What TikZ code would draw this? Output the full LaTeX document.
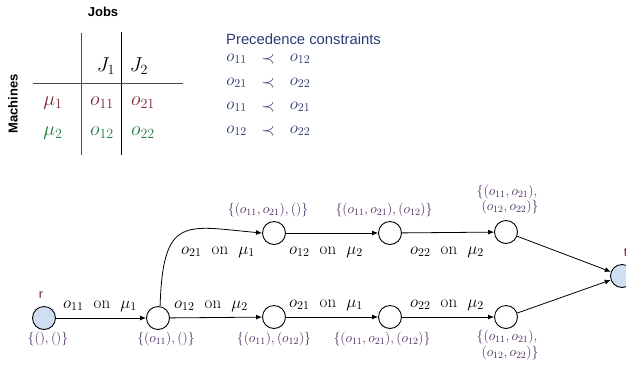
\RequirePackage{fix-cm}
\documentclass[tikz,border=0pt]{standalone}
\usepackage{amsmath}
\usepackage{fontspec}
\setsansfont{Liberation Sans}
\usetikzlibrary{arrows.meta}
\definecolor{mred}{HTML}{7A1F2E}
\definecolor{mgreen}{HTML}{1E7A3C}
\definecolor{cblue}{HTML}{2B3A75}
\definecolor{spurple}{HTML}{4B2C5E}
\definecolor{nodeblue}{HTML}{CFE0F2}
\definecolor{rlab}{HTML}{7A1A1A}
\newcommand{\on}{\hspace{0.6em}\text{on}\hspace{0.6em}}
\begin{document}
\begin{tikzpicture}[x=1pt,y=-1pt,
  state/.style={circle, draw, line width=0.9pt, minimum size=23pt, inner sep=0pt},
  term/.style={state, fill=nodeblue},
  elabel/.style={font=\fontsize{17}{20}\selectfont, inner sep=0pt},
  slabel/.style={font=\fontsize{13.7}{15}\selectfont, text=spurple, inner sep=0pt, align=center},
  tmath/.style={font=\fontsize{20}{24}\selectfont, inner sep=0pt},
  pmath/.style={font=\fontsize{17}{20}\selectfont, inner sep=0pt, text=cblue},
  hdr/.style={font=\sffamily\bfseries\fontsize{13}{15}\selectfont, inner sep=0pt},
  edge/.style={-{Latex[length=6pt,width=5pt]}, line width=0.8pt},
  tline/.style={line width=0.8pt}]
\useasboundingbox (0,0) rectangle (626,365);

% ---- table ----
\node[hdr] (jobs) at (103,12) {Jobs};
\node[hdr, rotate=90] (mach) at (13,104) {Machines};
\coordinate (v1t) at (81,33); \coordinate (v1b) at (81,155);
\coordinate (v2t) at (121,32); \coordinate (v2b) at (121,155);
\coordinate (hl) at (33,83); \coordinate (hr) at (183,83);
\draw[tline, draw=black!70] (v1t) -- (v1b);
\draw[tline, draw=black] (v2t) -- (v2b);
\draw[tline, draw=black!70] (hl) -- (hr);
\node[tmath] (j1) at (106,66) {$J_1$};
\node[tmath] (j2) at (139,66) {$J_2$};
\node[tmath, text=mred] (mu1) at (53,103) {$\mu_1$};
\node[tmath, text=mred] (o11) at (102,103) {$o_{11}$};
\node[tmath, text=mred] (o21) at (143,103) {$o_{21}$};
\node[tmath, text=mgreen] (mu2) at (53,133) {$\mu_2$};
\node[tmath, text=mgreen] (o12) at (102,133) {$o_{12}$};
\node[tmath, text=mgreen] (o22) at (143,133) {$o_{22}$};

% ---- precedence constraints ----
\node[font=\sffamily\fontsize{14.8}{17}\selectfont, text=cblue, inner sep=0pt, anchor=west] (prec) at (226,39) {Precedence constraints};
\foreach \i/\a/\b/\y in {1/11/12/59, 2/21/22/83, 3/11/21/107, 4/12/22/131}{
  \node[pmath] (pa\i) at (236.5,\y) {$o_{\a}$};
  \node[pmath] (pp\i) at (268,\y) {$\prec$};
  \node[pmath] (pb\i) at (300,\y) {$o_{\b}$};
}

% ---- graph ----
\node[term] (r) at (44,318) {};
\node[state] (n1) at (158,318) {};
\node[state] (n2) at (274,233) {};
\node[state] (n3) at (390,233) {};
\node[state] (n4) at (506,232) {};
\node[state] (n5) at (274,317) {};
\node[state] (n6) at (390,317) {};
\node[state] (n7) at (506,317) {};
\node[term] (t) at (622,276) {};

\node[font=\sffamily\fontsize{12.5}{14}\selectfont, text=rlab, inner sep=0pt] (rl) at (41,295) {r};
\node[font=\sffamily\fontsize{12.5}{14}\selectfont, text=rlab, inner sep=0pt] (tl) at (625.5,253) {t};

\draw[edge] (r) -- (n1);
\draw[edge] (n1) -- (n5);
\draw[edge] (n5) -- (n6);
\draw[edge] (n6) -- (n7);
\draw[edge] (n2) -- (n3);
\draw[edge] (n3) -- (n4);
\draw[edge] (n4) -- (t);
\draw[edge] (n7) -- (t);
\draw[edge] (n1.80) .. controls (163,215) and (185,226) .. (n2.west);

\node[elabel] (e1) at (100,306) {$o_{11}\on\mu_1$};
\node[elabel] (e2) at (211,306) {$o_{12}\on\mu_2$};
\node[elabel] (e3) at (218,252) {$o_{21}\on\mu_1$};
\node[elabel] (e4) at (326,252) {$o_{12}\on\mu_2$};
\node[elabel] (e5) at (447,252) {$o_{22}\on\mu_2$};
\node[elabel] (e6) at (326,305) {$o_{21}\on\mu_1$};
\node[elabel] (e7) at (447,305) {$o_{22}\on\mu_2$};

\node[slabel] (s0) at (48,339) {$\{(),()\}$};
\node[slabel] (s1) at (166,339) {$\{(o_{11}),()\}$};
\node[slabel] (s2) at (268,210) {$\{(o_{11},o_{21}),()\}$};
\node[slabel] (s3) at (384,210) {$\{(o_{11},o_{21}),(o_{12})\}$};
\node[slabel] (s4a) at (507,192) {$\{(o_{11},o_{21}),$};
\node[slabel] (s4b) at (510,207.5) {$(o_{12},o_{22})\}$};
\node[slabel] (s5) at (274,339) {$\{(o_{11}),(o_{12})\}$};
\node[slabel] (s6) at (382,339) {$\{(o_{11},o_{21}),(o_{12})\}$};
\node[slabel] (s7a) at (507,337.5) {$\{(o_{11},o_{21}),$};
\node[slabel] (s7b) at (510,353) {$(o_{12},o_{22})\}$};
\end{tikzpicture}
\end{document}
